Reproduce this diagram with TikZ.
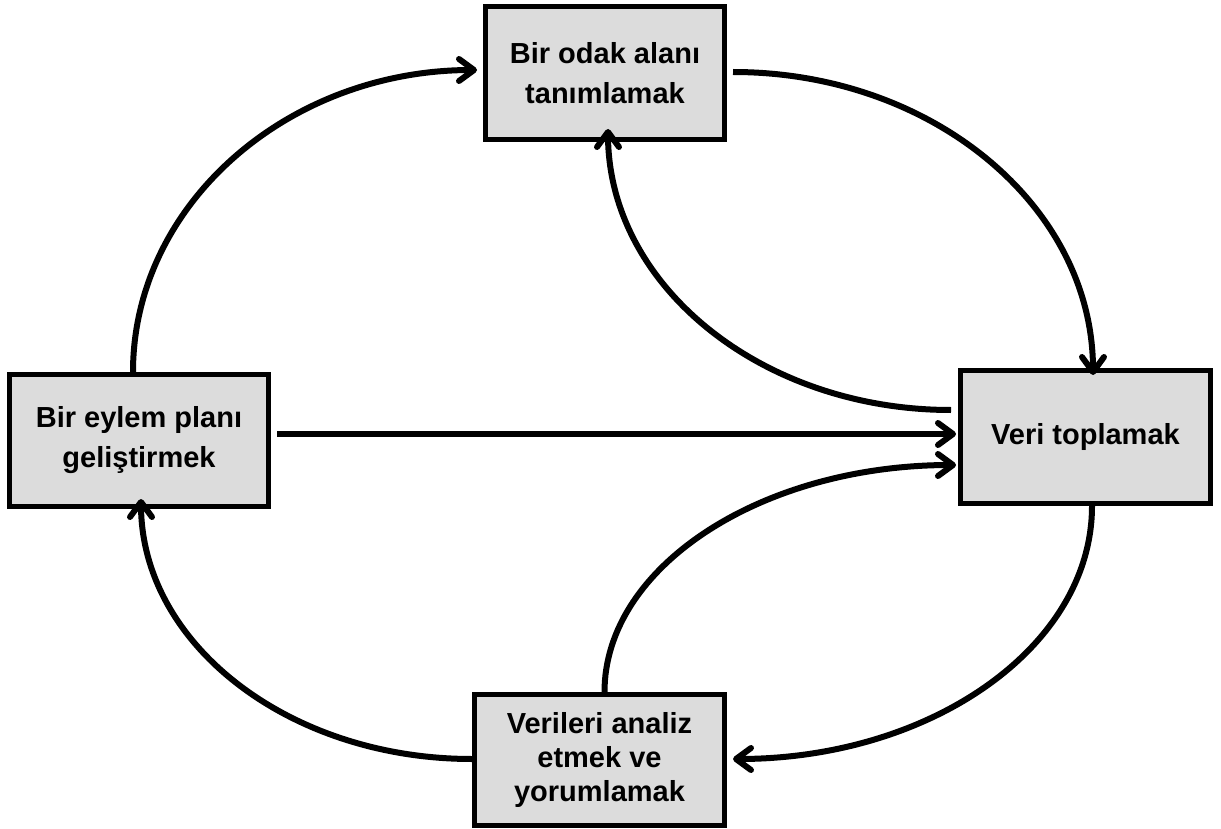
\documentclass[tikz,border=0pt]{standalone}
\usepackage{fontspec}
\setmainfont{Liberation Sans}
\usetikzlibrary{arrows.meta,calc}
\definecolor{boxgray}{RGB}{220,220,220}
\begin{document}
\begin{tikzpicture}[x=1pt,y=-1pt,
  box/.style={draw=black, line width=5pt, fill=boxgray, inner sep=0pt,
    align=center, text=black, font=\fontsize{29pt}{40pt}\selectfont\bfseries},
  arr/.style={line width=6pt, draw=black,
    -{Straight Barb[length=15pt,width=22pt,round]}}]
\useasboundingbox (0,0) rectangle (1221,829);
\node[box, minimum width=239pt, minimum height=133pt] (focus) at (605,73) {Bir odak alanı\\tanımlamak};
\node[box, minimum width=250pt, minimum height=133pt] (collect) at (1085.5,437) {Veri toplamak};
\node[box, minimum width=259pt, minimum height=132pt] (plan) at (139,440.5) {Bir eylem planı\\geliştirmek};
\node[box, minimum width=250pt, minimum height=131pt,
  font=\fontsize{29pt}{34pt}\selectfont\bfseries] (analyse) at (599.5,760) {Verileri analiz\\etmek ve\\yorumlamak};
% plan -> focus
\draw[arr] ($(plan.north)+(-6,0)$) .. controls +(0,-167) and +(-190,0) .. ($(focus.west)+(-6,-3)$);
% focus -> collect
\draw[arr] ($(focus.east)+(6,-1)$) .. controls +(200,0) and +(0,-168) .. ($(collect.north)+(7.5,7)$);
% collect -> focus
\draw[arr] ($(collect.west)+(-7,-27)$) .. controls +(-190,0) and +(0,156) .. ($(focus.south)+(3,-13)$);
% plan -> collect
\draw[arr] ($(plan.east)+(6,-6.5)$) -- ($(collect.west)+(-2,-3)$);
% analyse -> collect
\draw[arr] ($(analyse.north)+(5,0)$) .. controls +(0,-125) and +(-195,0) .. ($(collect.west)+(-2,28)$);
% collect -> analyse
\draw[arr] ($(collect.south)+(6.5,0)$) .. controls +(0,140) and +(199,0) .. ($(analyse.east)+(6,-1)$);
% analyse -> plan
\draw[arr] ($(analyse.west)+(0,-1)$) .. controls +(-183,0) and +(0,145) .. ($(plan.south)+(2,-10)$);
\end{tikzpicture}
\end{document}
